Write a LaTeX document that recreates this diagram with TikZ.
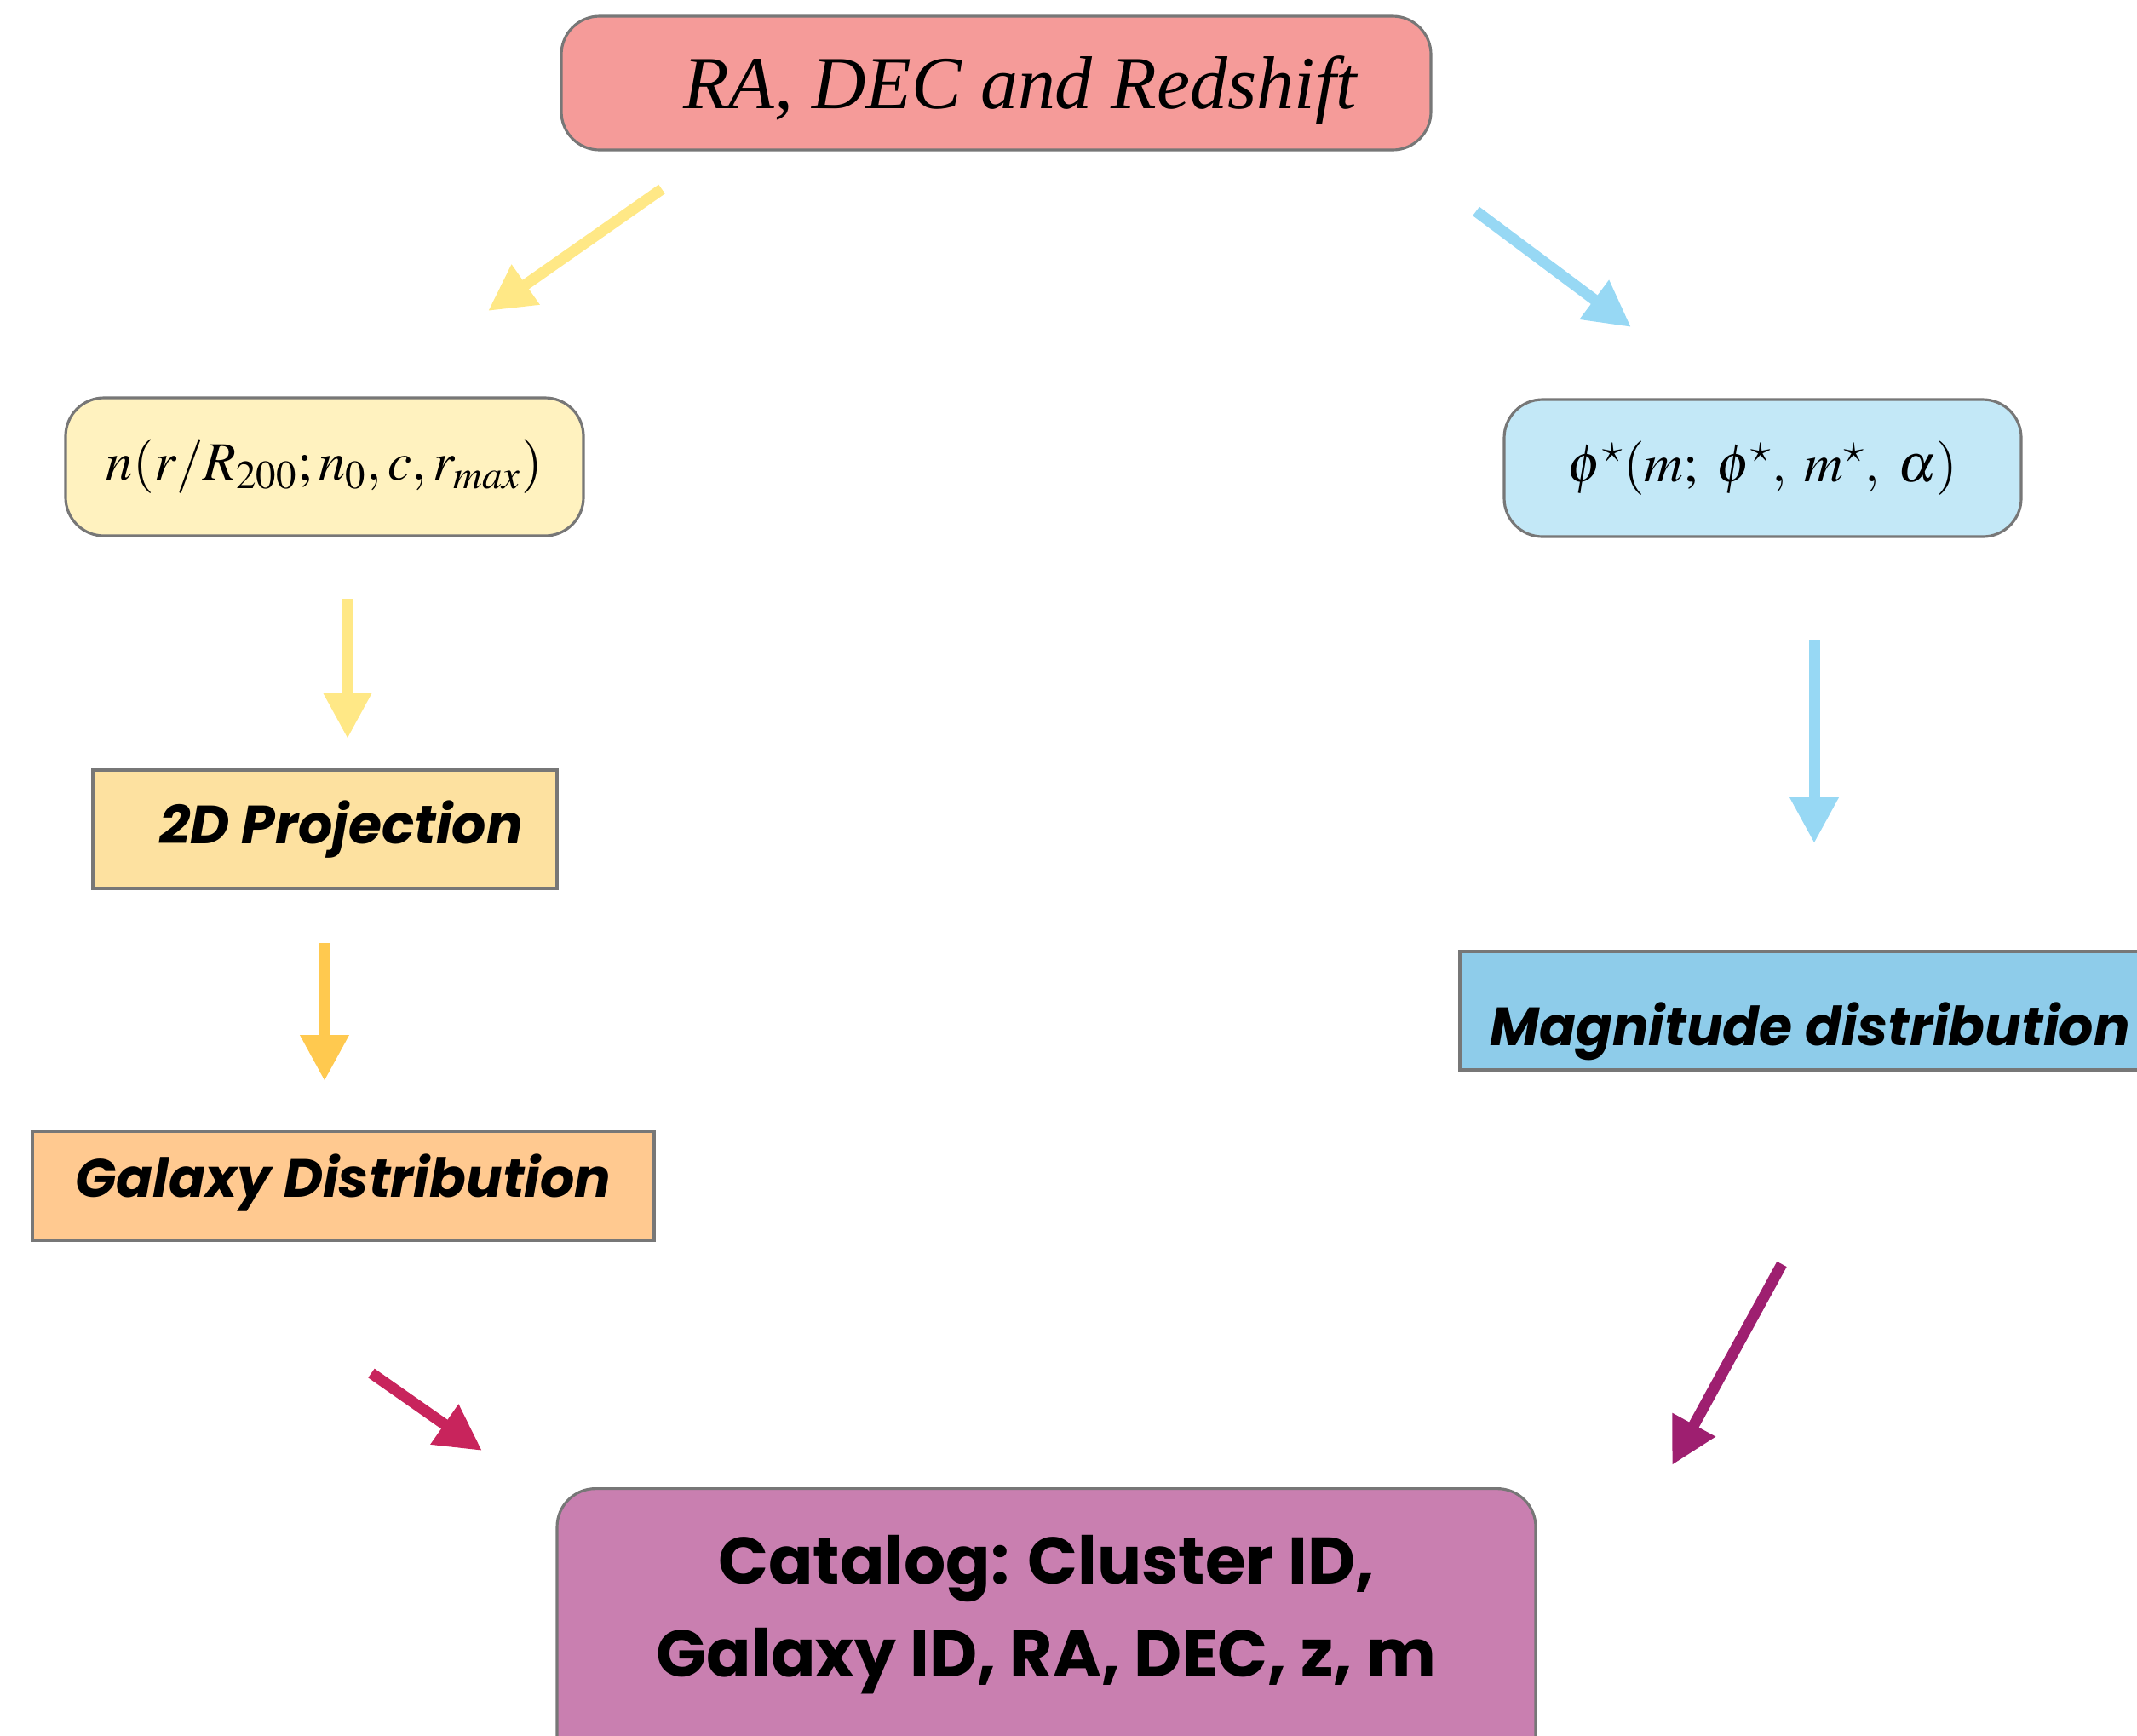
\documentclass[tikz,border=0pt]{standalone}
\usepackage{mathptmx}
\usepackage{fontspec}
\newfontfamily\labelsans{Poppins}
\newfontfamily\titleserif{Liberation Serif}
\usepackage{xcolor}
\usetikzlibrary{arrows.meta, positioning, calc}
\definecolor{edgegray}{RGB}{119,119,119}
\definecolor{rosefill}{RGB}{245,155,153}
\definecolor{nfill}{RGB}{255,242,191}
\definecolor{phifill}{RGB}{195,232,247}
\definecolor{projfill}{RGB}{253,225,160}
\definecolor{galfill}{RGB}{255,201,144}
\definecolor{magfill}{RGB}{142,204,234}
\definecolor{catfill}{RGB}{201,127,176}
\definecolor{arrowyellow}{RGB}{255,232,134}
\definecolor{arrowblue}{RGB}{151,216,244}
\definecolor{arrowgold}{RGB}{255,201,79}
\definecolor{arrowcrimson}{RGB}{200,36,92}
\definecolor{arrowplum}{RGB}{158,31,112}

\begin{document}
\begin{tikzpicture}[
    box/.style={draw=edgegray, line width=0.9pt, inner sep=0pt},
    roundbox/.style={box, rounded corners=0.45cm},
    flowarrow/.style={line width=0.13cm, -{Triangle[length=0.54cm, width=0.54cm]}},
    sanslabel/.style={font=\labelsans\bfseries\itshape\fontsize{18}{21}\selectfont}
  ]
  \clip (0,0) rectangle (25.09,-20.37);
  % Input: cluster position and redshift
  \node[roundbox, fill=rosefill, minimum width=10.21cm, minimum height=1.57cm,
        text height=0.8cm, text depth=0.2cm,
        font=\titleserif\itshape\fontsize{25}{29}\selectfont] (radec) at (11.695,-0.975)
        {\hspace*{0.56cm}RA, DEC and Redshift};
  % Radial profile branch
  \node[roundbox, fill=nfill, minimum width=6.08cm, minimum height=1.62cm,
        font=\fontsize{18}{21}\selectfont] (profile) at (3.81,-5.48)
        {$n(r/R_{200}; n_0, c, r_{max})$};
  \node[box, fill=projfill, minimum width=5.45cm, minimum height=1.39cm, sanslabel]
        (proj) at (3.815,-9.735) {\hspace*{0.38cm}2D Projection};
  \node[box, fill=galfill, minimum width=7.30cm, minimum height=1.28cm, sanslabel,
        text height=0.5cm, text depth=0.24cm] (galdist) at (4.03,-13.92)
        {Galaxy Distribution};
  % Luminosity function branch
  \node[roundbox, fill=phifill, minimum width=6.07cm, minimum height=1.61cm,
        font=\fontsize{18}{21}\selectfont] (lumfun) at (20.695,-5.495)
        {$\phi^\star(m;\;\phi^\star,\;m^\star,\;\alpha)$};
  \node[box, fill=magfill, minimum width=8.22cm, minimum height=1.39cm, sanslabel,
        text height=0.9cm, text depth=0.08cm] (magdist) at (21.25,-11.865)
        {Magnitude distribution};
  % Output catalog
  \node[roundbox, fill=catfill, minimum width=11.49cm, anchor=north, align=center,
        inner ysep=0.55cm, text depth=1.4cm,
        font=\labelsans\bfseries\fontsize{22}{31}\selectfont] (catalog) at (12.285,-17.46)
        {Catalog: Cluster ID,\\Galaxy ID, RA, DEC, z, m};
  % Arrow end points
  \coordinate (radecL) at (7.77,-2.22);
  \coordinate (profileT) at (5.73,-3.65);
  \coordinate (radecR) at (17.33,-2.48);
  \coordinate (lumfunT) at (19.15,-3.84);
  \coordinate (profileB) at (4.08,-7.03);
  \coordinate (projT) at (4.08,-8.67);
  \coordinate (projB) at (3.81,-11.07);
  \coordinate (galdistT) at (3.81,-12.69);
  \coordinate (lumfunB) at (21.30,-7.51);
  \coordinate (magdistT) at (21.30,-9.90);
  \coordinate (galdistB) at (4.36,-16.12);
  \coordinate (catalogL) at (5.66,-17.03);
  \coordinate (magdistB) at (20.92,-14.84);
  \coordinate (catalogR) at (19.63,-17.20);
  % Arrows
  \draw[flowarrow, arrowyellow] (radecL) -- (profileT);
  \draw[flowarrow, arrowblue] (radecR) -- (lumfunT);
  \draw[flowarrow, arrowyellow] (profileB) -- (projT);
  \draw[flowarrow, arrowgold] (projB) -- (galdistT);
  \draw[flowarrow, arrowblue] (lumfunB) -- (magdistT);
  \draw[flowarrow, arrowcrimson] (galdistB) -- (catalogL);
  \draw[flowarrow, arrowplum] (magdistB) -- (catalogR);
\end{tikzpicture}
\end{document}
